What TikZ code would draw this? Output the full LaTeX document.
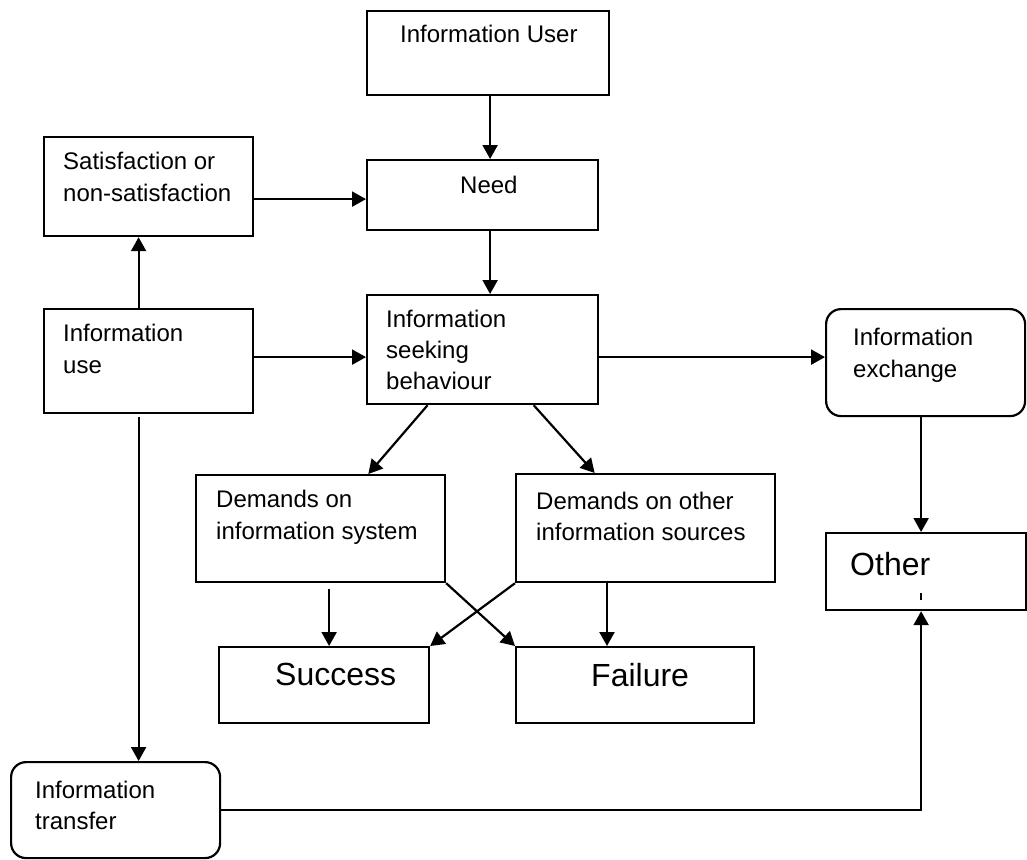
\documentclass[tikz,border=0pt]{standalone}
\usepackage{fontspec}
\setmainfont{Liberation Sans}
\usetikzlibrary{arrows.meta,calc}
\begin{document}
\begin{tikzpicture}[x=1pt,y=-1pt,
  box/.style={draw,line width=2.2pt,rectangle,inner sep=0pt,anchor=north west},
  rbox/.style={box,rounded corners=15pt},
  arr/.style={line width=2.2pt,-{Triangle[length=14pt,width=15pt]}},
  txt/.style={anchor=base west,inner sep=0pt,font=\fontsize{24}{32}\selectfont},
  big/.style={anchor=base west,inner sep=0pt,font=\fontsize{32}{38}\selectfont}]
\useasboundingbox (0,0) rectangle (1027,859);

% boxes
\node[box,minimum width=242pt,minimum height=84pt] (user) at (366,10) {};
\node[box,minimum width=231pt,minimum height=70pt] (need) at (366,159) {};
\node[box,minimum width=231pt,minimum height=109pt] (seek) at (366,294) {};
\node[box,minimum width=209pt,minimum height=99pt] (sat) at (43,136) {};
\node[box,minimum width=209pt,minimum height=104pt] (use) at (43,308) {};
\node[rbox,minimum width=199pt,minimum height=107pt] (exch) at (825,308) {};
\node[box,minimum width=249pt,minimum height=107pt] (dsys) at (195,474) {};
\node[box,minimum width=259pt,minimum height=108pt] (doth) at (515,473) {};
\node[box,minimum width=200pt,minimum height=77pt] (other) at (825,532) {};
\node[box,minimum width=210pt,minimum height=76pt] (succ) at (218,646) {};
\node[box,minimum width=238pt,minimum height=76pt] (fail) at (515,646) {};
\node[rbox,minimum width=209pt,minimum height=96pt] (trans) at (10,761) {};

% texts
\node[txt] (tuser) at (400,43) {Information User};
\node[txt] (tneed) at (460,193) {Need};
\node[txt] (tsat1) at (63,169) {Satisfaction or};
\node[txt] (tsat2) at (63,201) {non-satisfaction};
\node[txt] (tuse1) at (63,341) {Information};
\node[txt] (tuse2) at (63,373) {use};
\node[txt] (tseek1) at (386,327) {Information};
\node[txt] (tseek2) at (386,358) {seeking};
\node[txt] (tseek3) at (386,389) {behaviour};
\node[txt] (texch1) at (853,345) {Information};
\node[txt] (texch2) at (853,377) {exchange};
\node[txt] (tdsys1) at (216,507) {Demands on};
\node[txt] (tdsys2) at (216,539) {information system};
\node[txt] (tdoth1) at (536,509) {Demands on other};
\node[txt] (tdoth2) at (536,540) {information sources};
\node[big] (tother) at (850,575) {Other};
\node[big] (tsucc) at (275,685) {Success};
\node[big] (tfail) at (591,686) {Failure};
\node[txt] (ttrans1) at (35,798) {Information};
\node[txt] (ttrans2) at (35,829) {transfer};

% connectors
\draw[arr] ($(user.south)+(2,0)$) -- ($(user.south |- need.north)+(2,0)$);
\draw[arr] ($(user.south |- need.south)+(2,0)$) -- ($(user.south |- seek.north)+(2,0)$);
\draw[arr] ($(need.west -| sat.east)+(0,4)$) -- ($(need.west)+(0,4)$);
\draw[arr] ($(use.east)+(0,-4)$) -- ($(use.east -| seek.west)+(0,-4)$);
\draw[arr] ($(use.north)+(-10,0)$) -- ($(use.north |- sat.south)+(-10,0)$);
\draw[arr] ($(use.south)+(-10,3)$) -- ($(use.south |- trans.north)+(-10,0)$);
\draw[arr] (trans.east) -| ($(other.south)+(-5,0)$);
\draw[arr] ($(other.north |- exch.south)+(-5,0)$) -- ($(other.north)+(-5,0)$);
\draw[arr] ($(use.east -| seek.east)+(0,-4)$) -- ($(use.east -| exch.west)+(0,-4)$);
\draw[arr] ($(seek.south west)!0.264!(seek.south east)$) -- ($(dsys.north west)!0.69!(dsys.north east)$);
\draw[arr] ($(seek.south west)!0.719!(seek.south east)$) -- ($(doth.north west)!0.305!(doth.north east)$);
\draw[arr] ($(succ.north |- dsys.south)+(5,6)$) -- ($(succ.north)+(5,0)$);
\draw[arr] ($(fail.north west |- doth.south)+(92,0)$) -- ($(fail.north west)+(92,0)$);
\draw[arr] (dsys.south east) -- (fail.north west);
\draw[arr] (doth.south west) -- (succ.north east);

% stray tick inside Other
\draw[line width=2.6pt] ($(other.south)+(-5,-18)$) -- ($(other.south)+(-5,-11)$);
\end{tikzpicture}
\end{document}
